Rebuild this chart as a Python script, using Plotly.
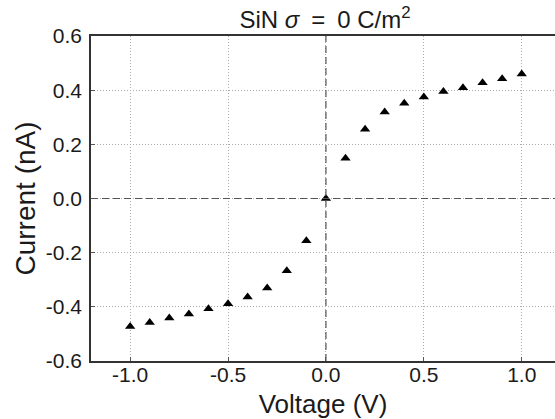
import plotly.graph_objects as go

voltage = [-1.0, -0.9, -0.8, -0.7, -0.6, -0.5, -0.4, -0.3, -0.2, -0.1, 0.0,
           0.1, 0.2, 0.3, 0.4, 0.5, 0.6, 0.7, 0.8, 0.9, 1.0]
current = [-0.473, -0.458, -0.441, -0.426, -0.407, -0.389, -0.364, -0.330, -0.267, -0.156, 0.0,
           0.149, 0.256, 0.319, 0.352, 0.375, 0.395, 0.409, 0.427, 0.442, 0.460]

x_ticks = [-1.0, -0.5, 0.0, 0.5, 1.0]
x_ticktext = ["-1.0", "-0.5", "0.0", "0.5", "1.0"]
y_ticks = [-0.6, -0.4, -0.2, 0.0, 0.2, 0.4, 0.6]
y_ticktext = ["-0.6", "-0.4", "-0.2", "0.0", "0.2", "0.4", "0.6"]

FONT = "Liberation Sans, Arial, sans-serif"
TXT = "#1a1a1a"

fig = go.Figure()
fig.add_trace(go.Scatter(
    x=voltage, y=current, mode="markers",
    marker=dict(symbol="triangle-up", size=9, color="black"),
    showlegend=False,
))

fig.update_layout(
    width=555, height=419,
    margin=dict(l=91, r=0, t=36, b=58),
    paper_bgcolor="white", plot_bgcolor="white",
    font=dict(family=FONT, color=TXT),
    title=dict(text="SiN <i>σ</i>\u2002=\u20020 C/m<sup>2</sup>", x=325 / 555,
               xanchor="center", y=1 - 20 / 419, yanchor="middle",
               font=dict(size=24, family=FONT, color=TXT)),
    shapes=[
        dict(type="line", xref="paper", yref="y", x0=0, x1=1, y0=0, y1=0,
             line=dict(color="#555", width=1.2, dash="7px,4px")),
        dict(type="line", xref="x", yref="paper", x0=0, x1=0, y0=0, y1=1,
             line=dict(color="#555", width=1.2, dash="7px,4px")),
    ],
)
fig.update_xaxes(
    range=[-1.2, 1.17], tickvals=x_ticks, ticktext=x_ticktext,
    showgrid=True, gridcolor="#aaa", griddash="1px,2px", gridwidth=1,
    zeroline=False, showline=True, linecolor="#333", linewidth=1.5, mirror=True,
    ticks="inside", ticklen=4, tickcolor="#555", ticklabelstandoff=-6,
    tickfont=dict(size=21, family=FONT, color=TXT),
    title=dict(text="Voltage (V)", font=dict(size=26, family=FONT, color=TXT), standoff=10),
)
fig.update_yaxes(
    range=[-0.6, 0.6], tickvals=y_ticks, ticktext=y_ticktext,
    showgrid=True, gridcolor="#aaa", griddash="1px,2px", gridwidth=1,
    zeroline=False, showline=True, linecolor="#333", linewidth=1.5, mirror=False,
    ticks="inside", ticklen=4, tickcolor="#555", ticklabelstandoff=3,
    tickfont=dict(size=21, family=FONT, color=TXT),
    title=dict(text="Current (nA)", font=dict(size=28, family=FONT, color=TXT), standoff=2),
)

fig.write_html("out.html")
